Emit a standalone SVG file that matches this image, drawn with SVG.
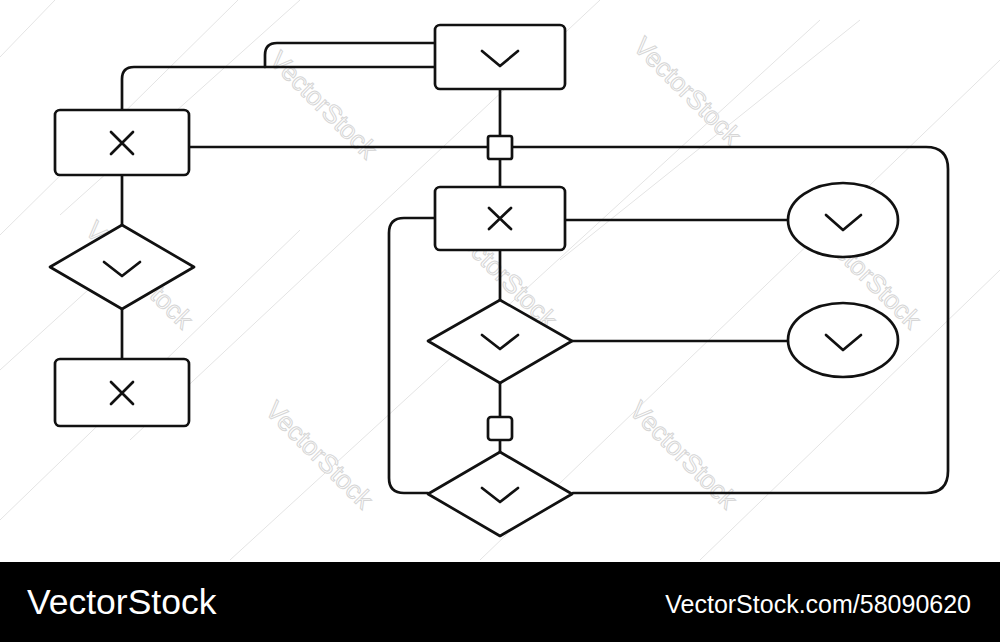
<svg xmlns="http://www.w3.org/2000/svg" width="1000" height="642" viewBox="0 0 1000 642">
<style>
.s{fill:#fff;stroke:#111;stroke-width:2.7;stroke-linejoin:round;stroke-linecap:round}
.c{fill:none;stroke:#111;stroke-width:2.7;stroke-linecap:round;stroke-linejoin:round}
.g{fill:none;stroke:#111;stroke-width:2.7;stroke-linecap:round;stroke-linejoin:round}
.bg{stroke:#e4e4e4;stroke-width:1;fill:none}
.wm{font-family:"Liberation Sans",Arial,sans-serif;font-size:26px;fill:#fff;stroke:#d6d6d6;stroke-width:1}
.ft{font-family:"Liberation Sans",Arial,sans-serif;fill:#fff}
</style>
<rect width="1000" height="642" fill="#fff"/>
<g id="background-lines">
<line class="bg" x1="0" y1="57" x2="55" y2="0"/>
<line class="bg" x1="0" y1="235" x2="238" y2="0"/>
<line class="bg" x1="60" y1="215" x2="300" y2="0"/>
<line class="bg" x1="130" y1="440" x2="600" y2="0"/>
<line class="bg" x1="230" y1="560" x2="820" y2="20"/>
<line class="bg" x1="480" y1="560" x2="1000" y2="60"/>
<line class="bg" x1="700" y1="560" x2="1000" y2="270"/>
<line class="bg" x1="0" y1="520" x2="300" y2="230"/>
<line class="bg" x1="560" y1="260" x2="860" y2="20"/>
<line class="bg" x1="0" y1="370" x2="110" y2="270"/>
</g>
<g id="watermarks">
<text class="wm" transform="translate(268,62) rotate(45)">VectorStock</text>
<text class="wm" transform="translate(632,48) rotate(45)">VectorStock</text>
<text class="wm" transform="translate(84,232) rotate(45)">VectorStock</text>
<text class="wm" transform="translate(448,232) rotate(45)">VectorStock</text>
<text class="wm" transform="translate(812,232) rotate(45)">VectorStock</text>
<text class="wm" transform="translate(264,412) rotate(45)">VectorStock</text>
<text class="wm" transform="translate(628,412) rotate(45)">VectorStock</text>
</g>
<g id="connectors">
<path class="c" d="M435 43 H277 Q265 43 265 55 V67"/>
<path class="c" d="M435 67 H134 Q122 67 122 79 V110"/>
<path class="c" d="M122 175 V225"/>
<path class="c" d="M122 309 V359"/>
<path class="c" d="M189 147 H488"/>
<path class="c" d="M512 147 H926 Q948 147 948 169 V471 Q948 493 926 493 H573"/>
<path class="c" d="M500 89 V136"/>
<path class="c" d="M500 159 V187"/>
<path class="c" d="M500 250 V300"/>
<path class="c" d="M500 383 V417"/>
<path class="c" d="M500 440 V452"/>
<path class="c" d="M565 220 H788"/>
<path class="c" d="M572 341 H788"/>
<path class="c" d="M435 218 H404 Q389 218 389 233 V478 Q389 493 404 493 H428"/>
</g>
<g id="node-top">
<rect class="s" x="435" y="25" width="130" height="64" rx="5"/>
<path class="g" d="M482 51 L500 66 L518 51"/>
</g>
<g id="node-left-box1">
<rect class="s" x="55" y="110" width="134" height="65" rx="5"/>
<path class="g" d="M111 132 L133 154 M133 132 L111 154"/>
</g>
<g id="node-left-diamond">
<polygon class="s" points="122,225 194,267 122,309 50,267"/>
<path class="g" d="M104 262 L122 276 L140 262"/>
</g>
<g id="node-left-box2">
<rect class="s" x="55" y="359" width="134" height="67" rx="5"/>
<path class="g" d="M111 382 L133 404 M133 382 L111 404"/>
</g>
<g id="junction-1">
<rect class="s" x="488" y="136" width="24" height="23" rx="2"/>
</g>
<g id="node-box2">
<rect class="s" x="435" y="187" width="130" height="63" rx="5"/>
<path class="g" d="M489 208 L511 229 M511 208 L489 229"/>
</g>
<g id="node-ellipse1">
<ellipse class="s" cx="843" cy="220" rx="55" ry="37"/>
<path class="g" d="M826 215 L843 230 L861 215"/>
</g>
<g id="node-diamond1">
<polygon class="s" points="500,300 572,341 500,383 428,341"/>
<path class="g" d="M482 335 L500 349 L518 335"/>
</g>
<g id="node-ellipse2">
<ellipse class="s" cx="843" cy="340" rx="55" ry="37"/>
<path class="g" d="M826 335 L843 350 L861 335"/>
</g>
<g id="junction-2">
<rect class="s" x="488" y="417" width="24" height="23" rx="3"/>
</g>
<g id="node-diamond2">
<polygon class="s" points="500,452 572,494 500,536 428,494"/>
<path class="g" d="M482 488 L500 502 L518 488"/>
</g>
<g id="footer">
<rect x="0" y="562" width="1000" height="80" fill="#000"/>
<text class="ft" x="27" y="614" font-size="35.5">VectorStock</text>
<text class="ft" x="971" y="613" font-size="25" text-anchor="end">VectorStock.com/58090620</text>
</g>
</svg>
